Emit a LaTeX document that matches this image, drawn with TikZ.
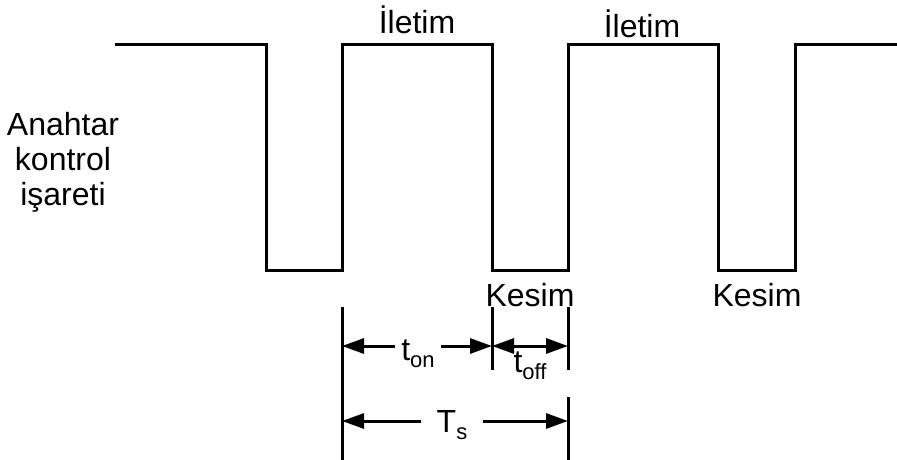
\documentclass[tikz,border=0pt]{standalone}
\usepackage{fontspec}
\setmainfont{Liberation Sans}
\usetikzlibrary{arrows.meta}

\newcommand{\subtxt}[1]{\raisebox{-7pt}{\fontsize{22}{22}\selectfont #1}}

\tikzset{
  wave/.style={line width=3pt, line join=miter},
  dimline/.style={line width=3pt},
  dimarrow/.style={line width=3pt, -{Triangle[length=22pt,width=15pt]}},
  dimboth/.style={line width=3pt, {Triangle[length=22pt,width=15pt]}-{Triangle[length=22pt,width=15pt]}},
  lbl/.style={font=\fontsize{32}{35}\selectfont, inner sep=0pt},
}

\begin{document}
\begin{tikzpicture}[x=1pt,y=-1pt]
\useasboundingbox (0,0) rectangle (897,460);

%% 波形
\coordinate (w0) at (115,45);
\coordinate (w1) at (266,270);
\coordinate (w2) at (342,45);
\coordinate (w3) at (492,270);
\coordinate (w4) at (568,45);
\coordinate (w5) at (718,270);
\coordinate (w6) at (795,45);
\coordinate (w7) at (897,45);
\draw[wave] (w0) -| (w1) -| (w2) -| (w3) -| (w4) -| (w5) -| (w6) -- (w7);

%% 文字
\node[lbl, align=center] (sig) at (63,162) {Anahtar\\kontrol\\işareti};
\node[lbl, anchor=base] (on1) at (417,34) {İletim};
\node[lbl, anchor=base] (on2) at (642,38) {İletim};
\node[lbl, anchor=base] (off1) at (530,306) {Kesim};
\node[lbl, anchor=base] (off2) at (757,306) {Kesim};

%% 寸法線
\coordinate (e1t) at (342,307);
\coordinate (e1b) at (342,460);
\coordinate (e2t) at (492,307);
\coordinate (e2b) at (492,370);
\coordinate (e3t) at (568,307);
\coordinate (e3m) at (568,370);
\coordinate (e3n) at (568,397);
\coordinate (e3b) at (568,460);
\draw[dimline] (e1t) -- (e1b);
\draw[dimline] (e2t) -- (e2b);
\draw[dimline] (e3t) -- (e3m);
\draw[dimline] (e3n) -- (e3b);

% t_on
\coordinate (a1) at (342,346);
\coordinate (a2) at (492,346);
\coordinate (a3) at (568,346);
\node[lbl, anchor=base, inner xsep=6pt] (ton) at (418,360) {t\subtxt{on}};
\draw[dimarrow] (ton.west |- a1) -- (a1);
\draw[dimarrow] (ton.east |- a2) -- (a2);
% t_off
\draw[dimboth] (a2) -- (a3);
\node[lbl, anchor=base] (toff) at (530,372) {t\subtxt{off}};
% T_s
\coordinate (b1) at (342,421);
\coordinate (b2) at (568,421);
\node[lbl, anchor=base, inner xsep=16pt] (ts) at (452,432) {T\subtxt{s}};
\draw[dimarrow] (ts.west |- b1) -- (b1);
\draw[dimarrow] (ts.east |- b2) -- (b2);

\end{tikzpicture}
\end{document}
